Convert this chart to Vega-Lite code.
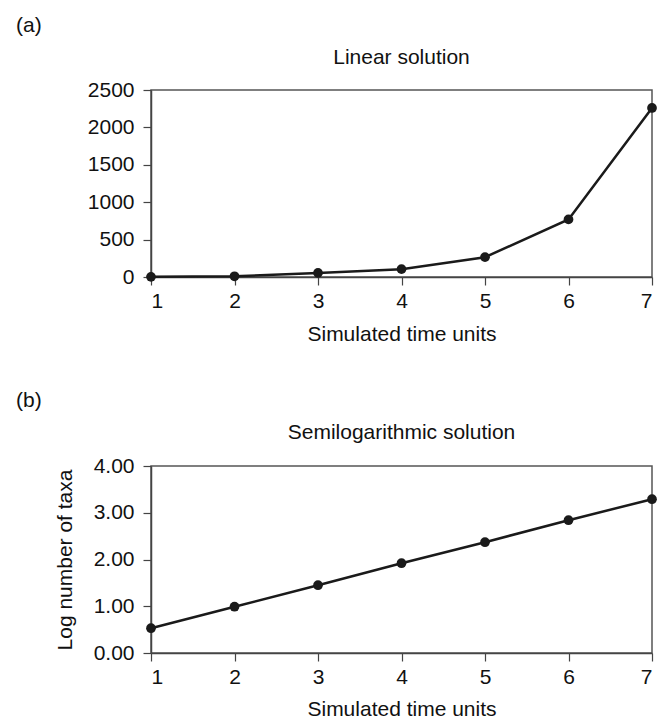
{
  "$schema": "https://vega.github.io/schema/vega-lite/v6.json",
  "background": "white",
  "padding": {"left": 16, "top": 15, "right": 2, "bottom": 0},
  "spacing": 45,
  "config": {
    "font": "Liberation Sans",
    "view": {"stroke": "#555", "strokeWidth": 1.5},
    "axis": {
      "grid": false,
      "domainColor": "#444",
      "domainWidth": 1.5,
      "tickColor": "#444",
      "tickWidth": 1.2,
      "tickSize": 8,
      "labelFontSize": 21,
      "labelColor": "#111",
      "titleFontSize": 21,
      "titleFontWeight": "normal",
      "titleColor": "#111"
    },
    "title": {"fontSize": 21, "fontWeight": "normal", "color": "#111"},
    "concat": {"spacing": 10}
  },
  "vconcat": [
    {
      "title": {"text": "(a)", "anchor": "start", "frame": "group", "dx": -135, "offset": 10},
      "vconcat": [
        {
          "title": {"text": "Linear solution", "offset": 11},
          "width": 501,
          "height": 187,
          "data": {
            "values": [
              {"t": 1, "taxa": 2},
              {"t": 2, "taxa": 10},
              {"t": 3, "taxa": 55},
              {"t": 4, "taxa": 105},
              {"t": 5, "taxa": 265},
              {"t": 6, "taxa": 770},
              {"t": 7, "taxa": 2260}
            ]
          },
          "encoding": {
            "x": {
              "field": "t",
              "type": "quantitative",
              "scale": {"domain": [1, 7], "nice": false},
              "axis": {"values": [1, 2, 3, 4, 5, 6, 7], "title": "Simulated time units", "labelPadding": 5, "titlePadding": 12}
            },
            "y": {
              "field": "taxa",
              "type": "quantitative",
              "scale": {"domain": [0, 2500], "nice": false},
              "axis": {"values": [0, 500, 1000, 1500, 2000, 2500], "format": "d", "title": null, "labelPadding": 9}
            }
          },
          "layer": [
            {"mark": {"type": "line", "color": "#1a1a1a", "strokeWidth": 2.5, "clip": false}},
            {"mark": {"type": "point", "filled": true, "color": "#1a1a1a", "opacity": 1, "size": 95, "clip": false}}
          ]
        }
      ]
    },
    {
      "title": {"text": "(b)", "anchor": "start", "frame": "group", "dx": -135, "offset": 10},
      "vconcat": [
        {
          "title": {"text": "Semilogarithmic solution", "offset": 12},
          "width": 501,
          "height": 187,
          "data": {
            "values": [
              {"t": 1, "logtaxa": 0.53},
              {"t": 2, "logtaxa": 0.99},
              {"t": 3, "logtaxa": 1.45},
              {"t": 4, "logtaxa": 1.92},
              {"t": 5, "logtaxa": 2.37},
              {"t": 6, "logtaxa": 2.84},
              {"t": 7, "logtaxa": 3.29}
            ]
          },
          "encoding": {
            "x": {
              "field": "t",
              "type": "quantitative",
              "scale": {"domain": [1, 7], "nice": false},
              "axis": {"values": [1, 2, 3, 4, 5, 6, 7], "title": "Simulated time units", "labelPadding": 5, "titlePadding": 11}
            },
            "y": {
              "field": "logtaxa",
              "type": "quantitative",
              "scale": {"domain": [0, 4], "nice": false},
              "axis": {"values": [0, 1, 2, 3, 4], "format": ".2f", "title": "Log number of taxa", "labelPadding": 9, "titlePadding": 18}
            }
          },
          "layer": [
            {"mark": {"type": "line", "color": "#1a1a1a", "strokeWidth": 2.5, "clip": false}},
            {"mark": {"type": "point", "filled": true, "color": "#1a1a1a", "opacity": 1, "size": 95, "clip": false}}
          ]
        }
      ]
    }
  ]
}
